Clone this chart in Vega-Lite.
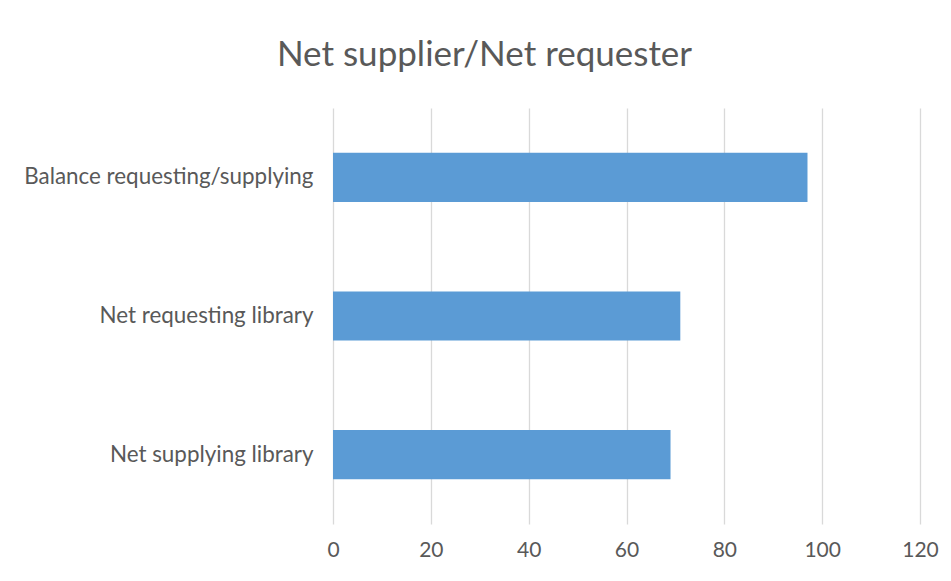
{
  "$schema": "https://vega.github.io/schema/vega-lite/v6.json",
  "autosize": "none",
  "width": 587,
  "height": 416,
  "padding": {"left": 333, "top": 108, "right": 31, "bottom": 57},
  "background": "white",
  "title": {
    "text": "Net supplier/Net requester",
    "font": "Lato",
    "fontSize": 35,
    "fontWeight": "normal",
    "color": "#595959",
    "anchor": "middle",
    "baseline": "alphabetic",
    "dx": -142,
    "offset": 7
  },
  "data": {
    "values": [
      {"category": "Balance requesting/supplying", "value": 97},
      {"category": "Net requesting library", "value": 71},
      {"category": "Net supplying library", "value": 69}
    ]
  },
  "mark": {"type": "bar", "color": "#5B9BD5"},
  "encoding": {
    "y": {
      "field": "category",
      "type": "nominal",
      "sort": null,
      "scale": {"paddingInner": 0.646, "paddingOuter": 0.323},
      "axis": {
        "title": null,
        "ticks": false,
        "domain": false,
        "labelFont": "Lato",
        "labelFontSize": 22.4,
        "labelColor": "#595959",
        "labelPadding": 20,
        "labelLimit": 400
      }
    },
    "x": {
      "field": "value",
      "type": "quantitative",
      "scale": {"domain": [0, 120], "nice": false},
      "axis": {
        "title": null,
        "values": [0, 20, 40, 60, 80, 100, 120],
        "ticks": false,
        "domain": false,
        "grid": true,
        "gridColor": "#d9d9d9",
        "gridWidth": 1.3,
        "labelFlush": false,
        "labelOverlap": false,
        "labelFont": "Lato",
        "labelFontSize": 21,
        "labelColor": "#595959",
        "labelPadding": 15
      }
    }
  },
  "config": {"view": {"stroke": null}}
}
